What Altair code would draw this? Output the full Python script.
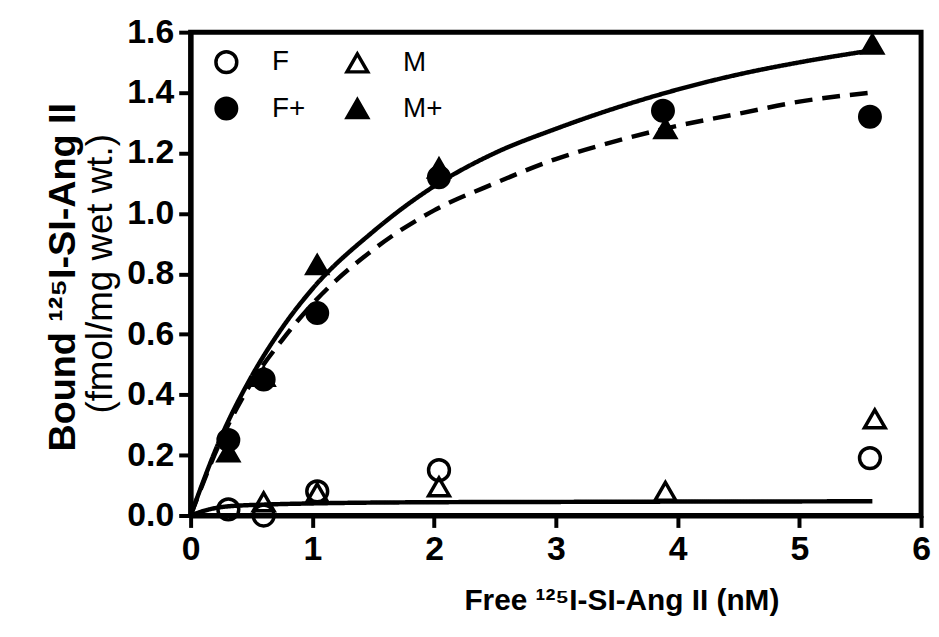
import altair as alt
import pandas as pd

# ---------------- data ----------------
series_order = ["F", "M", "F+", "M+"]
legend_order = ["F", "F+", "M", "M+"]  # column-major -> rows: F M / F+ M+

f_x = [0.31, 0.6, 1.04, 2.04, 5.58]
f_y = [0.02, 0.0, 0.08, 0.15, 0.19]

m_x = [0.6, 1.04, 2.04, 3.9, 5.62]
m_y = [0.045, 0.075, 0.095, 0.08, 0.32]

fp_x = [0.31, 0.6, 1.04, 2.04, 3.88, 5.58]
fp_y = [0.25, 0.45, 0.67, 1.12, 1.34, 1.32]

mp_x = [0.31, 0.6, 1.04, 2.04, 3.9, 5.6]
mp_y = [0.21, 0.46, 0.83, 1.15, 1.28, 1.56]

# fitted curves
fit_x = [0, 0.25, 0.5, 0.75, 1, 1.5, 2, 2.5, 3, 3.5, 4, 4.5, 5, 5.6]
mplus_fit = [0, 0.26, 0.46, 0.62, 0.75, 0.94, 1.09, 1.20, 1.28, 1.35, 1.41, 1.46, 1.50, 1.54]
fplus_fit = [0, 0.25, 0.44, 0.58, 0.70, 0.88, 1.01, 1.10, 1.18, 1.24, 1.29, 1.33, 1.37, 1.40]
low_x = [0, 0.15, 0.3, 0.6, 1, 2, 3, 4, 5.6]
low_fit = [0, 0.02, 0.03, 0.036, 0.04, 0.044, 0.045, 0.046, 0.047]

x_ticks = [0, 1, 2, 3, 4, 5, 6]
y_ticks = [0, 0.2, 0.4, 0.6, 0.8, 1.0, 1.2, 1.4, 1.6]
x_title = "Free \u00b9\u00b2\u2075I-SI-Ang II (nM)"
y_title = "Bound \u00b9\u00b2\u2075I-SI-Ang II"
y_title_line2 = ["(fmol/mg wet wt.)"]

# ---------------- tables ----------------
pts = pd.concat([
    pd.DataFrame({"x": f_x, "y": f_y, "series": "F"}),
    pd.DataFrame({"x": m_x, "y": m_y, "series": "M"}),
    pd.DataFrame({"x": fp_x, "y": fp_y, "series": "F+"}),
    pd.DataFrame({"x": mp_x, "y": mp_y, "series": "M+"}),
], ignore_index=True)

lines = pd.concat([
    pd.DataFrame({"x": fit_x, "y": mplus_fit, "curve": "M+ fit"}),
    pd.DataFrame({"x": fit_x, "y": fplus_fit, "curve": "F+ fit"}),
    pd.DataFrame({"x": low_x, "y": low_fit, "curve": "F/M fit"}),
], ignore_index=True)

FONT = "Liberation Sans"
W, H = 736, 487

x_scale = alt.Scale(domain=[0, 6], nice=False, zero=False)
y_scale = alt.Scale(domain=[0, 1.6], nice=False)

x_enc = alt.X("x:Q", scale=x_scale, axis=alt.Axis(
    values=x_ticks, format="d", title=x_title, labelFlush=False,
    titleX=434, titleY=86, titleAlign="center", titleBaseline="middle",
    titleFontSize=30))
y_enc = alt.Y("y:Q", scale=y_scale, axis=alt.Axis(
    values=y_ticks, format=".1f", title=y_title,
    titleX=-128, titleY=H / 2 + 3, titleAlign="center", titleBaseline="middle",
    titleAngle=270, titleFontSize=38))

line_layer = alt.Chart(lines).mark_line(
    color="black", strokeWidth=4.5, interpolate="monotone"
).encode(
    x=x_enc, y=y_enc,
    detail="curve:N",
    strokeDash=alt.StrokeDash("curve:N", scale=alt.Scale(
        domain=["M+ fit", "F+ fit", "F/M fit"],
        range=[[1, 0], [18, 10], [1, 0]]), legend=None),
)

legend = alt.Legend(
    orient="none", legendX=22, legendY=16, columns=2, title=None,
    values=legend_order,
    labelFont=FONT, labelFontSize=28, labelFontWeight="normal", labelColor="black",
    symbolStrokeWidth=3.5, symbolStrokeColor="black", labelOffset=32,
    columnPadding=34, rowPadding=11, padding=0)

point_layer = alt.Chart(pts).mark_point(
    filled=True, strokeWidth=3.5, opacity=1
).encode(
    x="x:Q", y="y:Q",
    shape=alt.Shape("series:N", scale=alt.Scale(
        domain=series_order,
        range=["circle", "triangle-up", "circle", "triangle-up"]), legend=legend),
    fill=alt.Fill("series:N", scale=alt.Scale(
        domain=series_order,
        range=["transparent", "transparent", "black", "black"]), legend=legend),
    stroke=alt.Stroke("series:N", scale=alt.Scale(
        domain=series_order,
        range=["black", "black", "black", "black"]), legend=legend),
    size=alt.Size("series:N", scale=alt.Scale(
        domain=series_order, range=[440, 420, 320, 320]), legend=legend),
)

label2 = alt.Chart(pd.DataFrame({"t": y_title_line2})).mark_text(
    angle=270, font=FONT, fontSize=37, fontWeight="normal", color="black",
    align="center", baseline="middle"
).encode(text="t:N", x=alt.value(-90), y=alt.value(H / 2))

chart = alt.layer(line_layer, point_layer, label2).properties(
    width=W, height=H,
    padding={"left": 184, "top": 22, "right": 10, "bottom": 110},
    autosize=alt.AutoSizeParams(type="none"),
).configure_view(
    stroke="black", strokeWidth=5
).configure_axis(
    domainColor="black", domainWidth=5, tickColor="black", tickWidth=4,
    tickSize=12, grid=False, labelFont=FONT, labelFontWeight="bold",
    labelFontSize=34, labelColor="black", labelPadding=5,
    titleFont=FONT, titleFontWeight="bold", titleColor="black",
    labelOverlap=False,
)

chart.save("out.html", embed_options={"renderer": "svg", "actions": False})
